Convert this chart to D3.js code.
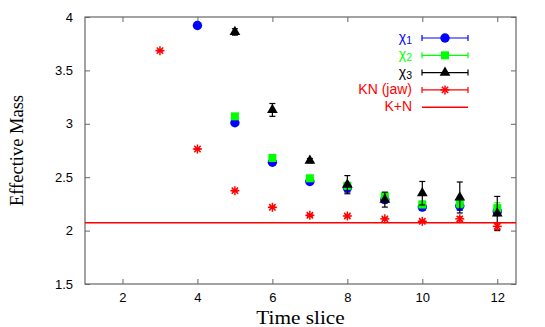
<!DOCTYPE html>
<meta charset="utf-8">
<style>
body { margin: 0; background: #fff; }
.tick text { font-family: "Liberation Sans", Arial, sans-serif; font-size: 13px; fill: #000; }
.title { font-family: "Liberation Serif", "Times New Roman", serif; font-size: 18.5px; }
.leg { font-family: "Liberation Sans", Arial, sans-serif; font-size: 14px; }
</style>
<body>
<svg width="545" height="327"></svg>
<script src="https://cdn.jsdelivr.net/npm/d3@7"></script>
<script>
// time slices and values
var chi1T = [4, 5, 6, 7, 8, 9, 10, 11, 12];
var chi1 = [3.92, 3.01, 2.64, 2.46, 2.40, 2.29, 2.22, 2.23, 2.18];
var chi1Err = [0.01, 0.01, 0.01, 0.01, 0.04, 0.03, 0.03, 0.04, 0.04];

var chi2T = [5, 6, 7, 8, 9, 10, 11, 12];
var chi2 = [3.07, 2.68, 2.49, 2.42, 2.32, 2.245, 2.255, 2.21];
var chi2Err = [0.01, 0.01, 0.01, 0.03, 0.03, 0.03, 0.04, 0.05];

var chi3T = [5, 6, 7, 8, 9, 10, 11, 12];
var chi3 = [3.86, 3.13, 2.655, 2.43, 2.29, 2.35, 2.31, 2.16];
var chi3Err = [0.03, 0.06, 0.02, 0.085, 0.07, 0.11, 0.145, 0.16];

var knT = [3, 4, 5, 6, 7, 8, 9, 10, 11, 12];
var kn = [3.685, 2.764, 2.374, 2.218, 2.143, 2.137, 2.11, 2.087, 2.11, 2.04];
var knErr = [0.005, 0.005, 0.005, 0.005, 0.01, 0.01, 0.01, 0.01, 0.02, 0.03];

var kPlusN = 2.074;

var xTicks = [2, 4, 6, 8, 10, 12];
var yTicks = [1.5, 2, 2.5, 3, 3.5, 4];

var svg = d3.select("svg");
var m = {left: 85, top: 17, right: 516, bottom: 284};

var x = d3.scaleLinear().domain([1, 12.5]).range([m.left, m.right]);
var y = d3.scaleLinear().domain([1.5, 4]).range([m.bottom, m.top]);

var frame = "#666";

// axes, ticks pointing inward on all four sides
svg.append("g").attr("transform", "translate(0," + m.bottom + ")")
  .call(d3.axisBottom(x).tickValues(xTicks).tickSizeInner(-5).tickSizeOuter(0).tickPadding(9).tickFormat(d3.format("d")))
  .call(function(g) { g.select(".domain").remove(); g.selectAll("line").attr("stroke", frame); });
svg.append("g").attr("transform", "translate(0," + m.top + ")")
  .call(d3.axisTop(x).tickValues(xTicks).tickSizeInner(-5).tickSizeOuter(0).tickFormat(""))
  .call(function(g) { g.select(".domain").remove(); g.selectAll("line").attr("stroke", frame); });
svg.append("g").attr("transform", "translate(" + m.left + ",0)")
  .call(d3.axisLeft(y).tickValues(yTicks).tickSizeInner(-5).tickSizeOuter(0).tickPadding(12).tickFormat(d3.format("")))
  .call(function(g) { g.select(".domain").remove(); g.selectAll("line").attr("stroke", frame); });
svg.append("g").attr("transform", "translate(" + m.right + ",0)")
  .call(d3.axisRight(y).tickValues(yTicks).tickSizeInner(-5).tickSizeOuter(0).tickFormat(""))
  .call(function(g) { g.select(".domain").remove(); g.selectAll("line").attr("stroke", frame); });

svg.append("rect")
  .attr("x", m.left).attr("y", m.top)
  .attr("width", m.right - m.left).attr("height", m.bottom - m.top)
  .attr("fill", "none").attr("stroke", frame).attr("stroke-width", 1.2);

// K+N threshold
svg.append("line")
  .attr("x1", m.left).attr("x2", m.right)
  .attr("y1", y(kPlusN)).attr("y2", y(kPlusN))
  .attr("stroke", "#ff0000").attr("stroke-width", 1.5);

function marker(g, shape, color) {
  if (shape == "circle") {
    g.append("circle").attr("r", 4.7).attr("fill", color);
  } else if (shape == "square") {
    g.append("rect").attr("x", -4).attr("y", -4).attr("width", 8).attr("height", 8).attr("fill", color);
  } else if (shape == "triangle") {
    g.append("path").attr("d", d3.symbol().type(d3.symbolTriangle).size(50)).attr("fill", color);
  } else {
    var r = 4.5;
    for (var i = 0; i < 4; i++) {
      var a = i * Math.PI / 4;
      g.append("line")
        .attr("x1", -r * Math.cos(a)).attr("y1", -r * Math.sin(a))
        .attr("x2", r * Math.cos(a)).attr("y2", r * Math.sin(a))
        .attr("stroke", color).attr("stroke-width", 1.5);
    }
  }
}

function series(ts, vals, errs, shape, color) {
  var g = svg.append("g");
  ts.forEach(function(t, i) {
    var px = x(t), y1 = y(vals[i] - errs[i]), y2 = y(vals[i] + errs[i]);
    g.append("line").attr("x1", px).attr("x2", px).attr("y1", y1).attr("y2", y2)
      .attr("stroke", color).attr("stroke-width", 1.2);
    [y1, y2].forEach(function(yy) {
      g.append("line").attr("x1", px - 3).attr("x2", px + 3).attr("y1", yy).attr("y2", yy)
        .attr("stroke", color).attr("stroke-width", 1.2);
    });
    var p = g.append("g").attr("transform", "translate(" + px + "," + y(vals[i]) + ")");
    marker(p, shape, color);
  });
}

series(chi1T, chi1, chi1Err, "circle", "#0000ff");
series(chi2T, chi2, chi2Err, "square", "#00ff00");
series(chi3T, chi3, chi3Err, "triangle", "#000000");
series(knT, kn, knErr, "star", "#ff0000");

// legend
var legend = [
  {name: "χ", sub: "1", shape: "circle", color: "#0000ff", bars: true},
  {name: "χ", sub: "2", shape: "square", color: "#00ff00", bars: true},
  {name: "χ", sub: "3", shape: "triangle", color: "#000000", bars: true},
  {name: "KN (jaw)", sub: "", shape: "star", color: "#ff0000", bars: true},
  {name: "K+N", sub: "", shape: null, color: "#ff0000", bars: false}
];
var lx0 = 422, lx1 = 468, ly0 = 38, ldy = 17.3;
legend.forEach(function(d, i) {
  var ly = ly0 + i * ldy;
  var t = svg.append("text").attr("class", "leg")
    .attr("x", 412).attr("y", ly + 4).attr("text-anchor", "end").attr("fill", d.color);
  t.append("tspan").text(d.name);
  if (d.sub) t.append("tspan").attr("dy", 2).attr("font-size", "10.5px").text(d.sub);
  svg.append("line").attr("x1", lx0).attr("x2", lx1).attr("y1", ly).attr("y2", ly)
    .attr("stroke", d.color).attr("stroke-width", d.bars ? 1.2 : 1.5);
  if (d.bars) {
    [lx0, lx1].forEach(function(xx) {
      svg.append("line").attr("x1", xx).attr("x2", xx).attr("y1", ly - 3).attr("y2", ly + 3)
        .attr("stroke", d.color).attr("stroke-width", 1.2);
    });
    marker(svg.append("g").attr("transform", "translate(" + ((lx0 + lx1) / 2) + "," + ly + ")"), d.shape, d.color);
  }
});

// axis titles
svg.append("text").attr("class", "title")
  .attr("transform", "translate(" + ((m.left + m.right) / 2) + ",324) scale(1.15,1)")
  .attr("text-anchor", "middle")
  .text("Time slice");
svg.append("text").attr("class", "title")
  .attr("transform", "translate(23," + ((m.top + m.bottom) / 2) + ") rotate(-90)")
  .attr("text-anchor", "middle")
  .text("Effective Mass");
</script>
</body>
